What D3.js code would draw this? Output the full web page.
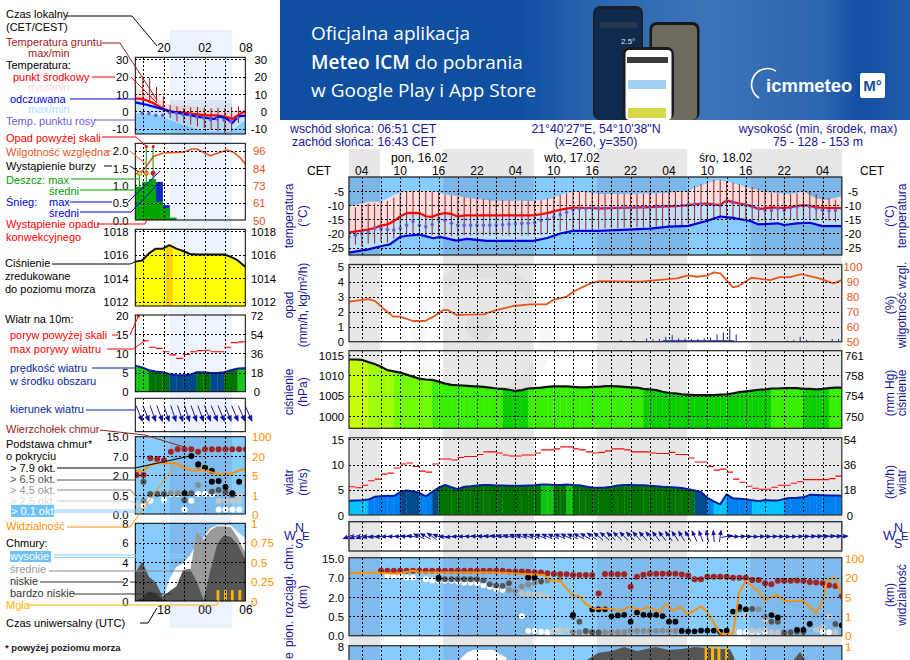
<!DOCTYPE html>
<html lang="pl"><head><meta charset="utf-8">
<script src="https://cdn.jsdelivr.net/npm/d3@7"></script>
<style>html,body{margin:0;padding:0;background:#fff;overflow:hidden}svg{display:block;font-family:"Liberation Sans",Arial,sans-serif}</style>
</head><body><svg id="c" width="910" height="660"></svg>
<script>
/* ---------- DATA : main meteogram, hour index 0 = Mon 02:00 CET ---------- */
const hourLabels=["04","10","16","22","04","10","16","22","04","10","16","22","04"];
const dayLabels=["pon, 16.02","wto, 17.02","śro, 18.02"];
const dayLabelHours=[11,35,59];
const nightStart=[0,14.72,38.72,62.72];
const nightEnd=[4.85,28.85,52.85,77];
const tempMaxH=[0,3,5,7,9,12.6,14.7,19,22.5,28.8,31.4,34,36,39,44.4,50,53,55.9,57.7,59.5,62.7,65.3,68.9,71,73,74.6,77];
const tempMaxV=[-10.5,-8.8,-8.8,-6.4,-4.9,-4.9,-6,-7.6,-8.4,-8.5,-7.8,-5.6,-5.2,-6,-6,-5.6,-4.9,-2.3,-1.1,-1.9,-4,-5.4,-6,-5.2,-7.6,-8.2,-6.8];
const tempMid=[-19.6,-19.3,-19,-18.6,-18.1,-17.2,-16.8,-15.6,-14,-12.8,-12.7,-12.8,-13.9,-14.1,-13.2,-12.8,-13.1,-14,-13.6,-13.6,-13.6,-13.6,-13.6,-13.6,-13.6,-13.6,-13.6,-13.6,-13.6,-13.5,-13.2,-12.8,-12.2,-11.6,-11.2,-10.9,-10.9,-11,-11,-11.1,-11.1,-11,-11,-10.9,-10.9,-10.8,-10.8,-10.7,-10.6,-10.4,-10.4,-10.3,-10.2,-10,-9.7,-9.5,-9.4,-9.8,-10,-8.3,-8.9,-9.4,-9.8,-10.4,-11.4,-11.1,-10.8,-10.9,-11,-10.7,-10.3,-10,-10.2,-10.8,-10.9,-11,-11,-11];
const feltH=[0,3,5,6.4,8,9,11,13.2,14.2,16.8,18.4,21.5,28.8,31,33,35,39,47,50,53,56,58,60,62.7,64,67,68,70,72,74,77];
const feltV=[-26.8,-25.6,-24.5,-23.8,-21.2,-20.8,-20.4,-21.7,-21.2,-22.5,-21.9,-22.6,-22.6,-21.6,-20,-19.1,-19.1,-18.3,-17.6,-17.3,-15.5,-14,-14.5,-15.6,-16.8,-16.4,-17,-16.4,-16.2,-17.4,-17.4];
const dewPoint=[-21.2,-20.6,-20,-19.4,-18.1,-18.3,-18.6,-18.8,-18.2,-17.1,-15.8,-17.1,-17.6,-16.8,-15,-15.3,-16.4,-17.1,-17.1,-17.1,-17.1,-17.1,-17.1,-17,-16.9,-16.7,-16.6,-16.5,-16.4,-16.2,-15.4,-14.9,-14.2,-13.4,-12.5,-11.6,-11.3,-11.2,-11,-11,-11.1,-11,-10.9,-10.9,-10.8,-10.7,-10.7,-10.6,-10.5,-10.4,-10.3,-10.2,-10,-9.8,-9.6,-9.5,-9.6,-9.9,-10.2,-8.8,-9.2,-9.6,-10,-10.6,-11.2,-12,-11.8,-11.2,-11.8,-11,-10.6,-10.3,-10.6,-11.2,-11.8,-12,-11.8,-11.2];
const groundMax=[null,-10.8,-9.9,-9.4,-9.4,-8.9,-8.5,-7.4,-6.2,-5.2,-4.8,-4.8,-5,-5.2,-5.5,-6.2,-6.5,-6.9,-7.2,-7.5,-7.6,-7.8,-8,-8.1,-8.2,-8.3,-8.4,-8.4,-8.4,-8.4,-8.2,-7.6,-7,-6.4,-5.8,-5.4,-5.2,-5.2,-5.4,-5.6,-6,-6,-6,-6,-6,-6,-6,-5.8,-5.8,-5.6,-5.4,-5.2,-5,-4.8,-3.2,-2.4,-1.5,-1,-1,-1.5,-2,-2.6,-3,-3.6,-4.2,-5,-5.6,-5.8,-6,-6,-5.8,-5.4,-5.2,-6,-7,-7.6,-8,null];
const groundMin=[null,-24,-24.5,-23.6,-23.6,-23,-23.2,-21.8,-21.4,-21,-21,-20.7,-20.6,-20.6,-20.7,-20.8,-21,-20.9,-20.7,-20.7,-20.7,-20.7,-20.7,-20.7,-20.7,-20.7,-20.7,-20.7,-20.7,-20.6,-20.4,-20,-19.6,-19.2,-18.9,-18.7,-18.6,-18.6,-18.6,-18.4,-18.2,-18,-18,-17.9,-17.9,-17.8,-17.8,-17.7,-17.6,-17.5,-17.4,-17.2,-17,-16.6,-16.2,-15.8,-15.2,-14.9,-14.7,-14.8,-15,-15.2,-15.4,-15.6,-15.8,-15.6,-15.4,-15.2,-15,-15,-15,-15,-15.2,-15.4,-15.4,-15.6,-15.8,null];
const humidityH=[0,3,4.1,5.4,6.9,8,10,11.9,13.2,14.7,15.5,16.8,18.4,21,23,25.7,28.3,30.9,31.9,34,35,37.7,39.2,45.5,51.2,53,54.3,55.9,57,58,59,60,60.8,62.9,65.8,67.3,68.9,70.7,73.6,75.7,77];
const humidityV=[76.7,78.4,77,72,66.7,66.7,63.8,63.8,66.7,71,71,67.8,68,68.2,71,73.8,74.9,74.9,77.8,80,83.3,88.9,90.4,90,92.2,94.2,93.3,94,96.2,95.6,91,86.2,87,92.7,91,93,93,95,92,88.9,91];
const precipSpikeH=[36,37,42.5,44.5,46.5,47.5,48.5,49.5,50.5,51.5,52.5,53.5,54.5,55.5,56.5,57.5,58.5,59.5,60.5,68.5,69.5,70.5,71.5,72.5,75.5,76.5];
const precipSpikeV=[.04,.05,.11,.11,.22,.16,.18,.33,.44,.22,.22,.18,.18,.22,.27,.49,.62,.89,.49,.09,.13,.33,.13,.07,.18,.18];
const precipBaseH=[35.6,40,46,52,56,60.2];
const precipBaseV=[.04,.05,.05,.09,.1,.1];
const pressure=[1013.9,1013.9,1013.8,1013.3,1012.8,1012.1,1011.3,1011,1010.7,1010.2,1009.7,1009.2,1009,1008.9,1008.5,1008,1007.7,1007.6,1007.5,1007.4,1007.3,1007.2,1007,1006.8,1006.7,1006.5,1006.2,1006.4,1006.8,1006.9,1007,1007.2,1007.3,1007.3,1007.3,1007.2,1007.1,1007.1,1007.2,1007.2,1007.4,1007.4,1007.3,1007.2,1007.1,1007,1006.7,1006.6,1006.4,1006,1005.7,1005.6,1005.4,1005.3,1005.2,1005.2,1005.2,1005.2,1005.3,1005.4,1005.6,1005.9,1006.1,1006.3,1006.5,1006.6,1006.8,1006.8,1006.9,1006.9,1006.9,1006.7,1006.7,1006.6,1006.7,1006.9,1007,1007];
const windMean=[2.8,2.85,2.9,3.05,3.6,3.7,3.8,3.75,4.55,4.85,4.7,4.4,3.7,4.6,5.4,5.95,5.5,5.1,5.6,5.7,5.85,5.95,5.95,5.85,5.85,5.8,5.8,5.8,5.85,5.9,6.05,6.05,5.95,5.95,6.05,5.95,5.9,5.65,5.45,5.4,5.45,5.6,5.85,5.95,5.95,5.9,5.9,5.8,5.7,5.6,5.55,5.45,5.35,5.1,4.85,4.55,3.4,2.7,2.1,4.1,3.3,3.2,3.1,2.9,2.75,2.95,2.85,2.85,3.2,3.35,3.4,3.5,4,3.95,3.9,3.85,3.85,3.8];
const windGust=[5.6,5.4,5.9,6.8,7.1,8.1,8.3,9.3,10.1,10.3,9.6,8.7,8.5,10.1,11.1,11.1,10.9,11.4,11.6,11.6,12,12.5,12.5,12.3,11.9,11.7,11.7,11.9,11.9,12.3,12.9,12.9,13.1,13.5,13.5,13.1,12.9,12.5,12.3,12.4,12.7,13.1,13.1,12.9,12.5,12.5,12.5,12.3,12.2,12.2,12.4,12,12,11.3,10.5,10.5,9.6,8.9,9.1,8.5,7.1,6.5,5.7,5.3,5.1,5.1,5.5,5.9,5.9,6.3,6.6,7,7,7,7,7.2,7.7];
const windHeading=[250,250,252,258,262,265,268,270,272,275,280,295,300,305,290,272,262,268,270,272,274,276,278,280,282,285,288,290,292,292,293,294,294,295,295,296,298,300,305,308,310,312,314,315,316,318,318,320,322,322,324,326,328,330,335,340,348,355,8,80,90,88,90,92,90,90,88,90,92,90,88,88,86,84,84,82,84,86];
const cloudTop=[null,null,null,null,null,9.8,9.8,9.8,9.8,9.8,9.8,9.8,9.8,9.8,9.8,9.8,9.8,9.8,9.8,9.8,9.8,9.8,9.8,9.8,9.8,9.5,9.5,9.5,9.4,9.2,9.1,8.8,8.5,8.5,8.4,8.1,8.1,8.1,8.1,3,8.5,8.5,8.4,8.4,4.7,7.4,8.2,8.6,8.6,8.6,8.6,8.6,8.3,7.9,6.6,6.6,7.4,7.4,7.4,7.4,7,7,7,6.4,6.4,5.6,5.3,6.2,6.2,6.2,6.3,6.2,5.9,5.8,5.6,5.1,4.9,2.3];
const baseWhite=[[6,8],[7,7.7],[8,7.7],[9,7.1],[10,7.1],[12,6.6],[13,6.3],[14,6.2],[15,6.2],[16,6.2],[17,6],[18,5.7],[19,5.7],[20,5.6],[21,5.1],[22,4.7],[23,4.1],[24,3.9],[27,.52],[28,.12],[29,.12],[30,.1],[31,.09],[32,.12],[33,.12],[61,.09],[62,.09],[63,.1],[64,.1],[65,.1],[74,.1],[75,.09]];
const baseLight=[[27,3],[28,2.9],[29,2.75],[30,2.6],[31,2],[32,.12],[33,.12],[34,.15],[60,.15],[62,.5],[63,.13],[64,.13],[65,.15],[65,.4],[66,.09],[67,.09],[68,.08],[73,.15],[74,.22],[75,.5],[76,.09]];
const baseGray=[[25,3.9],[26,3.6],[27,4.8],[28,5.3],[29,5.7],[30,6.2],[31,6.2],[33,7],[35,.09],[36,.09],[37,.1],[38,.09],[39,.08],[40,.09],[41,.09],[42,.09],[43,.09],[44,.12],[45,.12],[46,.12],[47,.12],[48,.12],[49,.13],[50,.12],[51,.12],[64,1.05],[65,.49]];
const baseDark=[[14,6.6],[15,6.6],[16,6.6],[17,6.6],[18,6.6],[19,6.6],[20,6.6],[21,6.3],[22,5.3],[23,5],[24,4.9],[25,5.6],[28,7],[29,7],[30,6],[35,.49],[36,.36],[37,.12],[38,.09],[39,.08],[61,1.05],[63,1.08],[66,.36],[67,.36],[68,.08],[69,.09],[70,.1],[71,.1],[76,.3]];
const baseBlack=[[14,7],[28,7.1],[29,7.1],[35,.62],[38,1.03],[39,1.05],[40,1.05],[41,.5],[42,.57],[43,.62],[44,.36],[45,.8],[46,.62],[47,.6],[48,.62],[49,.52],[50,.36],[51,.36],[52,.12],[53,.11],[54,.11],[55,.13],[56,.13],[57,.13],[58,.1],[59,.13],[60,.87],[61,1.25],[62,1.05],[66,.6],[67,.47],[70,.15],[71,.15],[72,.3],[77,.27]];
const visibilityH=[0,2.2,4.8,7.4,10,11.6,18.5,23.2,30.4,32,33,35,36,37,38.5,39.7,42.5,43.7,45.7,46.5,48.5,49.6,50.6,51.8,52.9,55,55.9,58,59,60,61,62,64,65,66.9,68,71,73,74,74.7,75.9,77];
const visibilityV=[38,40,40,36,48,42,41,41,31,17,17.5,6,6,3.5,2.5,2.7,2.2,3,2.3,3,2,3.6,2.2,3,1.4,3.1,2,.12,.07,.12,8.8,17.5,9.3,4.4,6.8,4.2,4.2,1.7,4.1,18,20,7.3,4].slice(0,42);
const cloudHighH=[0,16.9,17.3,18.4,19.4,22.5,24.6,25,77];
const cloudHighV=[0,0,6.6,7.3,7.6,7.6,6.8,0,0];
const cloudLowH=[0,36.5,37,39,41,43,45,47.9,50,52,54,56,58,59.5,60.2,60.6,69,69.5,70.5,71.2,71.7,77];
const cloudLowV=[0,0,6.5,7.3,7.5,7.9,7.5,7.9,7.6,7.7,7.9,7.8,7.7,7.7,6.8,0,0,6.6,7.4,6.6,0,0];
const fogH=[55.8,56.8,57.8,59];

/* ---------- DATA : left legend sample, hour index 0 = panel start ---------- */
const legendPinkH=[0,1.65,3.1,5.1,7.5,9.5,13.4,15.4,16.1];
const legendPinkV=[14,10.6,8.3,3.3,3.3,1.9,0,1,2.5];
const legendMidH=[0,1.2,2.6,4.1,5.1,6.5,8.5,10.4,11.9,13.4,14.2,15.1,16.1];
const legendMidV=[7.5,7,4.8,1.5,-.4,-.4,-1.5,-2.3,-2.3,-3.3,-4.4,-2,0];
const legendFeltH=[0,1.65,3.1,4.6,6.5,9.5,11.5,12.4,13.4,14.2,15.1,16.1];
const legendFeltV=[5.2,3.8,2.3,.6,-1,-3.3,-4.4,-2.9,-4.4,-6.7,-2.9,-2.5];
const legendFeltMinH=[0,3.1,7,10.4,13.9,16.1];
const legendFeltMinV=[-1,-1.9,-7.7,-11.5,-11.5,-4.8];
const legendDew=[null,-1,-1.3,-2.3,-2.3,-.6,-1,-1.9,-1.9,-3.3,-3.8,-4.8,-4.4,-5.2,-5.8,-3.8];
const legendGroundMax=[null,20.6,19.2,14,8.7,3.8,2.9,1.9,2.3,2.5,2.3,1.9,1.9,1.9,2.5,2.9];
const legendGroundMin=[null,3.8,4.8,4.8,0,-3.8,-5.8,-6.7,-7.7,-8.7,-9.6,-10.6,-11.5,-12.5,-11.5,-6.7];
const legendHumidityH=[0,1,1.65,2.65,4.1,7,8.3,9,11,13.4,14.4,15.4,16.1];
const legendHumidityV=[80,82,85.5,92,94.4,95,97.2,97.2,92.5,96.5,95,91,87];
const legendRain=[.96,1.1,1.18,.53,.34,.07];
const legendSnow=[0,0,0,1.1,.43,0];
const legendPressure=[1015.4,1015.5,1016.1,1016.5,1016.5,1016.8,1016.5,1016.3,1016.05,1016,1016,1016,1016,1016,1015.8,1015.5,1015,1015];
const legendWind=[6.8,6.3,5.6,5.3,5.1,4.6,4.3,4.3,4.4,5.1,5.1,4.9,4.9,5.1,5.6,6.05,6.1,6.1];
const legendGust=[null,13.3,11.6,11.3,10.4,9.6,8.7,9.7,10.4,10.7,10.8,10.4,10.4,11.6,12.8,13];
const legendHeading=[158,158,160,160,162,162,162,162,160,160,158,158,158,158,158,156,156];
const legendTop=[2,2,6.4,6.2,5.9,8.8,9.8,9.8,9.8,8.8,9.8,9.8,9.8,9.8,9.8,9.8,9.8];
const legendWhite=[[1,.23],[2,.35],[4,.38],[5,.58],[6,.57],[7,.12],[8,.35],[9,.58],[10,.57],[11,.58],[12,.12],[13,.12],[14,.12],[15,.12]];
const legendLight=[[0,.21],[5,.64],[9,1.25],[12,.35],[13,.35],[14,.35],[15,.5],[15,.35],[16,1.5]];
const legendGray=[[1,.35],[5,.64],[6,.64],[9,1.25],[9,4.3],[10,3.9],[11,1.5]];
const legendDark=[[1,1.5],[2,.57],[3,.57],[4,.57],[7,.36],[8,.64],[11,.75],[12,.87],[13,.7],[14,.5]];
const legendBlack=[[7,.64],[8,7],[9,4.8],[10,3.9],[11,3.1],[11,1.5],[12,1.55],[13,1.1],[14,.64],[15,1.5]];
const legendVisH=[0,1.2,2.1,3.3,6,7.2,8.7,10,12.2,14.1,15.4,16.1];
const legendVisV=[8.4,8.4,12.9,14.2,14.2,10.3,8.4,9,5.5,6.3,9,9.5];
const legendCloudHigh=[0,0,0,0,0,2.3,3.5,3.9,4.7,5.9,6.5,7.5,7.8,7.8,7.8,7.1,6.5,6.5];
const legendCloudMid=[0,0,0,0,0,0,0,1.8,2.9,7.1,6.3,7.3,7.7,7.7,7.6,6.5,5.1,5.1];
const legendCloudLow=[2.9,4.05,2.5,1.9,.45,1,1.5,3.2,3.3,2,.1,3.2,5.9,6.8,6.6,5.8,4.4,4.4];
const legendCloudVeryLow=[0,.3,1,.8,.1,0,0,0,0,0,0,0,0,0,0,0,0,0];
const legendFogH=[12.1,13.2,14.2,15.3];
const legendHourLabels=["20","02","08"];
const legendUtcLabels=["18","00","06"];

/* ---------- Colours ---------- */
const SKY="#86cdfe",SKYN="#7ebbec",PINK="#fcdfdf",PALE="#c2e5ff",NAVY="#17179a",RED="#ff0000",BLU="#0000e6",
BROWN="#a01c1c",ORN="#e8561a",VIS="#ff9000",FOG="#ffb400",DEW="#6e5ed6",LEVEL=["#ffffff","#c6c6c6","#8a8a8a","#555555","#000000"];

const svg=d3.select("#c");
const defs=svg.append("defs");
const x=d3.scaleLinear().domain([0,77]).range([349,841.8]);
const lx=d3.scaleLinear().domain([0,16.1]).range([135.3,245.3]);
const zip=(h,v)=>h.map((d,i)=>({h:d,v:v[i]}));
const idx=a=>a.map((v,i)=>({h:i,v})).filter(d=>d.v!=null);
const FS=11;
function txt(g,t,xx,yy,o={}){const e=g.append("text").attr("x",xx).attr("y",yy).attr("fill",o.c||"#000").attr("font-size",o.s||FS).attr("text-anchor",o.a||"start").text(t);if(o.w)e.attr("font-weight",o.w);if(o.f)e.attr("font-family",o.f);return e;}
function vtxt(g,t,xx,yy,o={}){return g.append("text").attr("transform",`translate(${xx},${yy}) rotate(-90)`).attr("fill",o.c||NAVY).attr("font-size",o.s||12).attr("text-anchor",o.a||"middle").text(t);}

/* ---------- banner ---------- */
const gr=defs.append("linearGradient").attr("id","bn");
[[0,"#0e4fa2"],[.38,"#0f4fa2"],[.5,"#2a66b0"],[.68,"#3c74b8"],[.86,"#2c66b0"],[.92,"#134fa2"],[1,"#1f5cab"]].forEach(s=>gr.append("stop").attr("offset",s[0]).attr("stop-color",s[1]));
const bn=svg.append("g");
bn.append("rect").attr("x",280).attr("y",0).attr("width",630).attr("height",120).attr("fill","url(#bn)");
txt(bn,"Oficjalna aplikacja",311,40,{c:"#fff",s:19,f:"Open Sans"});
const b2=txt(bn,"",311,68.5,{c:"#fff",s:19,f:"Open Sans"});
b2.append("tspan").attr("font-weight",600).text("Meteo ICM");b2.append("tspan").text(" do pobrania");
txt(bn,"w Google Play i App Store",311,97,{c:"#fff",s:19,f:"Open Sans"});
bn.append("rect").attr("x",593).attr("y",6).attr("width",50).attr("height",114).attr("rx",7).attr("fill","#1b1f26");
bn.append("rect").attr("x",595).attr("y",9).attr("width",46).attr("height",111).attr("rx",5).attr("fill","#0f2a4c");
bn.append("rect").attr("x",600).attr("y",22).attr("width",37).attr("height",6).attr("fill","#24384f");
txt(bn,"2.5°",621,44,{c:"#dfe9f3",s:8});
bn.append("rect").attr("x",649.5).attr("y",22).attr("width",50).attr("height",98).attr("rx",7).attr("fill","#17181a");
bn.append("rect").attr("x",652).attr("y",25).attr("width",45).attr("height",95).attr("rx",5).attr("fill","#6d6b5e");
bn.append("rect").attr("x",623).attr("y",47).attr("width",51).attr("height",73).attr("rx",7).attr("fill","#1a1a1a");
bn.append("rect").attr("x",625.5).attr("y",50).attr("width",46).attr("height",70).attr("rx",4).attr("fill","#fff");
bn.append("rect").attr("x",627).attr("y",57).attr("width",41).attr("height",6).attr("fill","#3a3a3a");
bn.append("rect").attr("x",628).attr("y",80).attr("width",38).attr("height",9).attr("fill","#9fd2f5");
bn.append("rect").attr("x",628).attr("y",108).attr("width",38).attr("height",10).attr("fill","#d6d84a");
bn.append("path").attr("d","M776 71 A 15 15 0 0 0 759 98").attr("fill","none").attr("stroke","#fff").attr("stroke-width",1.6);
txt(bn,"icmmeteo",766,92,{c:"#fff",s:18.5,w:"bold"});
bn.append("rect").attr("x",860).attr("y",73).attr("width",25).attr("height",25).attr("rx",2).attr("fill","#fff");
txt(bn,"M°",872.5,91,{c:"#0f4fa2",s:15,w:"bold",a:"middle"});

/* ---------- info header ---------- */
const hd=svg.append("g");
txt(hd,"wschód słońca: 06:51 CET",290,132.5,{c:NAVY,s:12.3});
txt(hd,"zachód słońca: 16:43 CET",292,146,{c:NAVY,s:12.3});
txt(hd,"21°40'27\"E, 54°10'38\"N",596,132.5,{c:NAVY,s:12.3,a:"middle"});
txt(hd,"(x=260,  y=350)",596,146,{c:NAVY,s:12.3,a:"middle"});
txt(hd,"wysokość (min, środek, max)",818,132.5,{c:NAVY,s:12.3,a:"middle"});
txt(hd,"75 - 128 - 153 m",818,146,{c:NAVY,s:12.3,a:"middle"});

/* ---------- background bands ---------- */
const bg=svg.append("g");
nightStart.forEach((s,i)=>bg.append("rect").attr("x",x(s)).attr("y",149).attr("width",x(nightEnd[i])-x(s)).attr("height",511).attr("fill","#e7e7e7"));
bg.append("circle").attr("cx",480).attr("cy",327).attr("r",14).attr("fill","#000").attr("opacity",.035);
bg.append("circle").attr("cx",482).attr("cy",335).attr("r",64).attr("fill","none").attr("stroke","#000").attr("stroke-width",14).attr("opacity",.028);
bg.append("rect").attr("x",170).attr("y",30).attr("width",62).attr("height",598).attr("fill","#edf3fd");

/* ---------- generic panel tools ---------- */
const main={t:[177,255],r:[264.5,341.7],p:[350.7,428.3],w:[437.7,515],d:[521.7,551],c:[557.7,635.7],k:[645.7,724]};
const left={t:[57.3,134],r:[143.3,220],p:[229.3,306],w:[315,391.7],d:[398.3,431.7],c:[436.7,514],k:[523.3,601]};
let clipN=0;
function panel(xs,box,bgFn){const g=svg.append("g");const id="cp"+(clipN++);
 defs.append("clipPath").attr("id",id).append("rect").attr("x",xs.range()[0]).attr("y",box[0]).attr("width",xs.range()[1]-xs.range()[0]).attr("height",box[1]-box[0]);
 const c=g.append("g").attr("clip-path",`url(#${id})`);if(bgFn)bgFn(c);return{g,c};}
function mainSky(c,box){c.append("rect").attr("x",x(0)).attr("y",box[0]).attr("width",x(77)-x(0)).attr("height",box[1]-box[0]).attr("fill",SKY);
 nightStart.forEach((s,i)=>c.append("rect").attr("x",x(s)).attr("y",box[0]).attr("width",x(nightEnd[i])-x(s)).attr("height",box[1]-box[0]).attr("fill",SKYN));}
function leftSky(c,box){c.append("rect").attr("x",135.3).attr("y",box[0]).attr("width",110).attr("height",box[1]-box[0]).attr("fill",SKY);
 c.append("rect").attr("x",170).attr("y",box[0]).attr("width",62).attr("height",box[1]-box[0]).attr("fill",SKYN);}
function grid(p,xs,box,xv,ys,yv){const g=p.g.append("g").attr("stroke","#000").attr("stroke-dasharray","2,2").attr("shape-rendering","crispEdges");
 xv.forEach(v=>g.append("line").attr("x1",Math.round(xs(v))+.5).attr("x2",Math.round(xs(v))+.5).attr("y1",box[0]).attr("y2",box[1]));
 if(ys)yv.forEach(v=>g.append("line").attr("x1",xs.range()[0]).attr("x2",xs.range()[1]).attr("y1",Math.round(ys(v))+.5).attr("y2",Math.round(ys(v))+.5));}
function frame(p,xs,box,col,w){p.g.append("rect").attr("x",xs.range()[0]).attr("y",box[0]).attr("width",xs.range()[1]-xs.range()[0]).attr("height",box[1]-box[0]).attr("fill","none").attr("stroke",col).attr("stroke-width",w);}
function axis(sc,vals,o){const a=d3.axisLeft(sc).tickValues(vals).tickSize(0).tickPadding(0).tickFormat(o.fmt||(d=>d));
 const g=svg.append("g").attr("transform",`translate(${o.x},0)`).call(a);g.select(".domain").remove();
 g.selectAll("text").attr("x",0).attr("dy",".36em").attr("text-anchor",o.a||"end").attr("fill",o.c||"#000").attr("font-size",o.s||11.3).attr("font-family",'"Liberation Sans",Arial,sans-serif');return g;}
const pts=(g,data,xf,yf,r,fill)=>g.selectAll(null).data(data).join("circle").attr("cx",xf).attr("cy",yf).attr("r",r).attr("fill",fill);
const lineOf=(xs,ys,k=d3.curveLinear)=>d3.line().x(d=>xs(d.h)).y(d=>ys(d.v)).curve(k);
const path=(g,d,col,w)=>g.append("path").attr("d",d).attr("fill","none").attr("stroke",col).attr("stroke-width",w).attr("stroke-linejoin","round");
function arrows(g,xs,heads,cy,len,off=0,hs=1){heads.forEach((h,i)=>{const a=h*Math.PI/180,sx=Math.sin(a),sy=-Math.cos(a),cx=xs(i+off);
 const hx=cx+sx*len/2,hy=cy+sy*len/2;g.append("line").attr("x1",cx-sx*len/2).attr("y1",cy-sy*len/2).attr("x2",hx).attr("y2",hy).attr("stroke","#1a1aa0").attr("stroke-width",1);
 g.append("path").attr("d",`M${hx+sx*1.5*hs},${hy+sy*1.5*hs} L${hx-sx*4*hs-sy*2.3*hs},${hy-sy*4*hs+sx*2.3*hs} L${hx-sx*4*hs+sy*2.3*hs},${hy-sy*4*hs-sx*2.3*hs}Z`).attr("fill","#1414a0");});}
function gustSegs(g,xs,ys,data,off=0){data.forEach((v,i)=>{if(v==null)return;g.append("line").attr("x1",xs(i+off)).attr("x2",xs(i+off+1)).attr("y1",ys(v)).attr("y2",ys(v)).attr("stroke",RED).attr("stroke-width",1.1);});}
function cols(g,xs,ys,data,color,base,off=0){data.forEach((v,i)=>{const n=data[i+1]??v;const a=d3.area().x(d=>xs(d.h)).y0(base).y1(d=>ys(d.v));
 g.append("path").attr("d",a([{h:i+off,v:off?(v+(data[i-1]??v))/2:v},{h:i+off+(off?.5:0),v},{h:i+off+1,v:off?(v+n)/2:n}])).attr("fill",color(v)).attr("stroke",color(v)).attr("stroke-width",.3);});}

/* ================= MAIN PANELS ================= */
const vHours=d3.range(2,77,3);
// temperature
const yT=d3.scaleLinear().domain([0,-27.5]).range([176.9,254.7]);
const pT=panel(x,main.t,c=>mainSky(c,main.t));
const band=(xs,ys,up,lo)=>{const hs=Array.from(new Set([...up.map(d=>d.h),...lo.map(d=>d.h)])).sort((a,b)=>a-b);const f=a=>h=>{const b=d3.bisector(d=>d.h).left(a,h);if(b<=0)return a[0].v;if(b>=a.length)return a[a.length-1].v;const p=a[b-1],q=a[b];return p.v+(q.v-p.v)*(h-p.h)/(q.h-p.h);};const U=f(up),L=f(lo);return d3.area().x(h=>xs(h)).y0(h=>ys(L(h))).y1(h=>ys(U(h)))(hs);};
const midS=idx(tempMid),maxS=zip(tempMaxH,tempMaxV),feltS=zip(feltH,feltV);
pT.c.append("path").attr("d",band(x,yT,midS,feltS.map(d=>({h:d.h,v:d.v-.1})))).attr("fill",PALE);
pT.c.append("path").attr("d",band(x,yT,maxS,midS)).attr("fill",PINK);
nightStart.forEach((s,i)=>pT.c.append("rect").attr("x",x(s)).attr("y",main.t[0]).attr("width",x(nightEnd[i])-x(s)).attr("height",78).attr("fill","#000").attr("opacity",.025));
pT.c.selectAll(null).data(idx(groundMax)).join("line").attr("x1",d=>x(d.h)).attr("x2",d=>x(d.h)).attr("y1",d=>yT(d.v)).attr("y2",d=>yT(groundMin[d.h])).attr("stroke",BROWN).attr("stroke-width",1);
path(pT.c,lineOf(x,yT)(midS),RED,2.2);
path(pT.c,lineOf(x,yT)(feltS),BLU,2.2);
pts(pT.c,idx(dewPoint),d=>x(d.h),d=>yT(d.v),1.8,DEW);
grid(pT,x,main.t,vHours,yT,[-5,-10,-15,-20,-25]);frame(pT,x,main.t,"#333",1.4);
axis(yT,[-5,-10,-15,-20,-25],{x:344});axis(yT,[-5,-10,-15,-20,-25],{x:853,a:"middle"});
// rain + humidity
const yR=d3.scaleLinear().domain([0,5]).range([341.7,266.7]);
const yH=d3.scaleLinear().domain([50,100]).range([341.7,266.7]);
const pR=panel(x,main.r);
pR.c.append("path").attr("d",d3.area().x(d=>x(d.h)).y0(yR(0)).y1(d=>yR(d.v)).curve(d3.curveStep)(zip(precipBaseH,precipBaseV))).attr("fill","#1428b4");
pR.c.selectAll(null).data(zip(precipSpikeH,precipSpikeV)).join("line").attr("x1",d=>x(d.h)).attr("x2",d=>x(d.h)).attr("y1",yR(0)).attr("y2",d=>yR(d.v)).attr("stroke","#1428b4").attr("stroke-width",1);
path(pR.c,lineOf(x,yH)(zip(humidityH,humidityV)),ORN,1.8);
grid(pR,x,main.r,vHours,yR,[1,2,3,4,5]);frame(pR,x,main.r,"#333",1.3);
axis(yR,[0,1,2,3,4,5],{x:344});axis(yH,[50,60,70,80,90,100],{x:853,a:"middle",c:ORN});
// pressure
const yP=d3.scaleLinear().domain([1000,1015]).range([416.3,355]);
const pP=panel(x,main.p);
const pCol=d3.scaleThreshold().domain([1006.75,1008.95,1011.1,1013.5]).range(["#0ad000","#38f000","#70ff00","#a0ff00","#c8ff00"]);
cols(pP.c,x,yP,pressure,pCol,main.p[1]);
path(pP.c,lineOf(x,yP)(idx(pressure)),"#111",2.2);
grid(pP,x,main.p,vHours,yP,[1000,1005,1010,1015]);frame(pP,x,main.p,"#222",1.2);
axis(yP,[1000,1005,1010,1015],{x:344});axis(yP,[1000,1005,1010,1015],{x:845,a:"start",fmt:d=>({1000:750,1005:754,1010:758,1015:761})[d]});
// wind
const yW=d3.scaleLinear().domain([0,15]).range([515,439.3]);
const pW=panel(x,main.w);
const wCol=d3.scaleThreshold().domain([3,4.5,5,6]).range(["#00c4ff","#0080f0","#004a8c","#007400","#12c412"]);
cols(pW.c,x,yW,windMean,wCol,main.w[1]);
gustSegs(pW.c,x,yW,windGust);
path(pW.c,lineOf(x,yW)(idx(windMean)),"#0a1ea0",2);
grid(pW,x,main.w,vHours,yW,[5,10,15]);frame(pW,x,main.w,"#333",1.2);
axis(yW,[0,5,10,15],{x:344});axis(yW,[0,5,10,15],{x:850,a:"middle",fmt:d=>d*3.6});
// direction
const pD=panel(x,main.d);grid(pD,x,main.d,vHours);frame(pD,x,main.d,"#333",1.4);
arrows(svg.append("g"),x,windHeading,536.5,11);
// cloud base
const ckm=d3.scaleLinear().domain([0,.5,2,7,15]).range([635.6,616.3,597.3,577.7,558]);
const cvis=d3.scaleLinear().domain([0,1,5,20,100]).range([635.6,616.3,597.3,577.7,558]);
const pC=panel(x,main.c,c=>mainSky(c,main.c));
[baseWhite,baseLight,baseGray,baseDark,baseBlack].forEach((a,i)=>pts(pC.c,a,d=>x(d[0]),d=>ckm(d[1]),2.9,LEVEL[i]));
pts(pC.c,idx(cloudTop),d=>x(d.h),d=>ckm(d.v),3,"#a32222");
path(pC.c,lineOf(x,cvis)(zip(visibilityH,visibilityV)),VIS,1.9);
grid(pC,x,main.c,vHours,ckm,[.5,2,7]);frame(pC,x,main.c,"#333",1.3);
axis(ckm,[0,.5,2,7,15],{x:344,fmt:d3.format(".1f")});axis(cvis,[0,1,5,20,100],{x:845,a:"start",c:VIS,s:11.8});
// clouds (only the top of this panel lies in the window)
const yK=d3.scaleLinear().domain([0,8]).range([724,646]);
const yF=d3.scaleLinear().domain([0,1]).range([724,646]);
const pK=panel(x,main.k,c=>mainSky(c,main.k));
const ar=(xs,ys)=>d3.area().x(d=>xs(d.h)).y0(ys(0)).y1(d=>ys(d.v));
pK.c.append("path").attr("d",ar(x,yK)(zip(cloudHighH,cloudHighV))).attr("fill","#fff");
pK.c.append("path").attr("d",ar(x,yK)(zip(cloudLowH,cloudLowV))).attr("fill","#555");
pK.c.selectAll(null).data(fogH).join("rect").attr("x",d=>x(d)-1.5).attr("width",3).attr("y",yF(1)).attr("height",yF(0)-yF(1)).attr("fill",FOG);
grid(pK,x,[646,724],vHours);frame(pK,x,main.k,"#333",1.3);
axis(yK,[8],{x:344});axis(yF,[1],{x:845,a:"start",c:VIS,s:11.8});

/* time header */
const th=svg.append("g");
txt(th,"CET",307,175,{s:12});txt(th,"CET",860,175,{s:12});
hourLabels.forEach((t,i)=>txt(th,t,x(2+6*i),175,{s:12,a:"middle"}));
dayLabels.forEach((t,i)=>txt(th,t,x(dayLabelHours[i])+(i==0?0:-1),161.5,{s:12,a:"middle"}));

/* side titles */
const st=svg.append("g");
[["temperatura","(°C)",216],["opad","(mm/h, kg/m²/h)",305],["ciśnienie","(hPa)",392],["wiatr","(m/s)",482]].forEach(r=>{vtxt(st,r[0],293,r[2]);vtxt(st,r[1],307,r[2]);});
vtxt(st,"pion. rozciągł. chm.",293,647,{a:"start"});
vtxt(st,"e",293,659,{a:"start"});
vtxt(st,"(km)",307,597);
[["(°C)","temperatura",216],["(%)","wilgotność wzgl.",305],["(mm Hg)","ciśnienie",393],["(km/h)","wiatr",482],["(km)","widzialność",595]].forEach(r=>{vtxt(st,r[0],894,r[2]);vtxt(st,r[1],906,r[2]);});
[["W",284,540,12.5],["N",295,532,12.5],["E",302,540,11.5],["S",295,548,12.5],["W",883,540,13.5],["N",894,532,12.5],["E",901,540,11.5],["S",894,548,12.5]].forEach(p=>txt(st,p[0],p[1],p[2],{c:NAVY,s:p[3]}));

/* ================= LEFT LEGEND PANELS ================= */
const lGrid=[1.2,4.2,7.2,10.2,13.2];
// temperature
const lyT=d3.scaleLinear().domain([-10,30]).range([128.7,59.3]);
const lT=panel(lx,left.t,c=>{c.append("rect").attr("x",135.3).attr("y",57).attr("width",110).attr("height",77).attr("fill","#fff");c.append("rect").attr("x",170).attr("y",57).attr("width",62).attr("height",77).attr("fill","#edf3fd");});
const lMid=zip(legendMidH,legendMidV),lPink=zip(legendPinkH,legendPinkV),lFelt=zip(legendFeltH,legendFeltV),lMin=zip(legendFeltMinH,legendFeltMinV);
lT.c.append("path").attr("d",d3.area().x(d=>lx(d.h)).y0(134).y1(d=>lyT(d.v))(lMin)).attr("fill",SKY);
lT.c.append("path").attr("d",band(lx,lyT,lMid,lMin)).attr("fill",PALE);
lT.c.append("path").attr("d",band(lx,lyT,lPink,lMid)).attr("fill",PINK);
lT.c.append("rect").attr("x",170).attr("y",100).attr("width",62).attr("height",34).attr("fill","#3060a0").attr("opacity",.1);
lT.c.selectAll(null).data(idx(legendGroundMax)).join("line").attr("x1",d=>lx(d.h+.1)).attr("x2",d=>lx(d.h+.1)).attr("y1",d=>lyT(d.v)).attr("y2",d=>lyT(legendGroundMin[d.h])).attr("stroke",BROWN).attr("stroke-width",1);
path(lT.c,lineOf(lx,lyT)(lMid),RED,2.2);
path(lT.c,lineOf(lx,lyT)(lFelt),BLU,2.2);
pts(lT.c,idx(legendDew),d=>lx(d.h),d=>lyT(d.v),1.8,DEW);
grid(lT,lx,left.t,lGrid,lyT,[-10,0,10,20,30]);frame(lT,lx,left.t,"#000",1);
axis(lyT,[-10,0,10,20,30],{x:128.5});axis(lyT,[-10,0,10,20,30],{x:267});
// rain
const lyR=d3.scaleLinear().domain([0,2]).range([220,150.7]);
const lyH=d3.scaleLinear().domain([50,61,73,84,96]).range([220,202.7,185,168.3,150.7]);
const lR=panel(lx,left.r);
lR.c.selectAll(null).data(legendSnow.map((v,i)=>({h:i,v}))).join("rect").attr("x",d=>lx(d.h)).attr("width",lx(1)-lx(0)+.3).attr("y",d=>lyR(d.v)).attr("height",d=>220-lyR(d.v)).attr("fill","#1428c8");
lR.c.selectAll(null).data(legendRain.map((v,i)=>({h:i,v}))).join("rect").attr("x",d=>lx(d.h)).attr("width",lx(1)-lx(0)+.3).attr("y",d=>lyR(d.v)).attr("height",d=>220-lyR(d.v)).attr("fill","#00a800");
const storms=[[.6,"#ffe000",1.35,.96],[1.6,"#ffa000",1.35,1.1],[2.6,"#ee1111",1.35,1.18]];
[[1.6,2.15,1.1],[2.6,2.15,1.18],[.6,1.35,.96]].forEach(s=>lR.g.append("line").attr("x1",lx(s[0])).attr("x2",lx(s[0])).attr("y1",lyR(s[1])).attr("y2",lyR(s[2])).attr("stroke","#00a000"));
storms.forEach(s=>lR.g.append("circle").attr("cx",lx(s[0])).attr("cy",lyR(s[2])).attr("r",2.2).attr("fill",s[1]).attr("stroke","#333").attr("stroke-width",.5));
[1.6,2.6].forEach(h=>lR.g.append("rect").attr("x",lx(h)-1.2).attr("y",lyR(2.12)-1.2).attr("width",2.6).attr("height",2.6).attr("fill",RED));
lR.g.append("line").attr("x1",lx(1.2)).attr("x2",lx(4.1)).attr("y1",219.5).attr("y2",219.5).attr("stroke",RED).attr("stroke-dasharray","3,3");
path(lR.c,lineOf(lx,lyH)(zip(legendHumidityH,legendHumidityV)),ORN,1.6);
grid(lR,lx,left.r,lGrid,lyR,[.5,1,1.5,2]);frame(lR,lx,left.r,"#000",1);
axis(lyR,[0,.5,1,1.5,2],{x:128.5,fmt:d3.format(".1f")});axis(lyH,[50,61,73,84,96],{x:253,a:"start",c:ORN});
// pressure
const lyP=d3.scaleLinear().domain([1012,1018]).range([301.7,231]);
const lP=panel(lx,left.p);
cols(lP.c,lx,lyP,legendPressure,d3.scaleThreshold().domain([1016.75]).range(["#ffff00","#ffd000"]),306,-.5);
path(lP.c,lineOf(lx,lyP)(idx(legendPressure)),"#111",2);
grid(lP,lx,left.p,lGrid,lyP,[1012,1014,1016,1018]);frame(lP,lx,left.p,"#000",1);
axis(lyP,[1012,1014,1016,1018],{x:128.5});axis(lyP,[1012,1014,1016,1018],{x:251,a:"start"});
// wind
const lyW=d3.scaleLinear().domain([0,20]).range([391.7,315]);
const lW=panel(lx,left.w);
cols(lW.c,lx,lyW,legendWind,d3.scaleThreshold().domain([5,6]).range(["#004a8c","#007400","#18c818"]),391.7);
gustSegs(lW.c,lx,lyW,legendGust);
path(lW.c,lineOf(lx,lyW)(idx(legendWind)),"#0a1ea0",2);
lW.g.append("circle").attr("cx",lx(.45)).attr("cy",lyW(19.7)).attr("r",1.4).attr("fill",RED);
grid(lW,lx,left.w,lGrid,lyW,[5,10,15]);frame(lW,lx,left.w,"#000",1);
axis(lyW,[0,5,10,15,20],{x:128.5});axis(lyW,[0,5,10,15,20],{x:257,a:"middle",fmt:d=>d*3.6});
// direction
const lD=panel(lx,left.d);grid(lD,lx,left.d,lGrid);frame(lD,lx,left.d,"#000",1);
arrows(svg.append("g"),lx,legendHeading,413,16,.55,1.2);
// cloud base
const lkm=d3.scaleLinear().domain([0,.5,2,7,15]).range([514,495,475,456,436.7]);
const lvis=d3.scaleLinear().domain([0,1,5,20,100]).range([514,495,475,456,436.7]);
const lC=panel(lx,left.c,c=>leftSky(c,left.c));
[legendWhite,legendLight,legendGray,legendDark,legendBlack].forEach((a,i)=>pts(lC.c,a,d=>lx(d[0]+.2),d=>lkm(d[1]),3,LEVEL[i]));
pts(lC.c,idx(legendTop),d=>lx(d.h+.2),d=>lkm(d.v),3,"#a32222");
path(lC.c,lineOf(lx,lvis)(zip(legendVisH,legendVisV)),VIS,2);
grid(lC,lx,left.c,lGrid,lkm,[.5,2,7]);frame(lC,lx,left.c,"#000",1);
axis(lkm,[0,.5,2,7,15],{x:128.5,fmt:d3.format(".1f")});axis(lvis,[0,1,5,20,100],{x:252,a:"start",c:VIS,s:11.8});
// clouds
const lyK=d3.scaleLinear().domain([0,8]).range([601,523.3]);
const lyF=d3.scaleLinear().domain([0,1]).range([601,523.3]);
const lK=panel(lx,left.k,c=>leftSky(c,left.k));
[[legendCloudHigh,"#fff"],[legendCloudMid,"#9a9a9a"],[legendCloudLow,"#565656"],[legendCloudVeryLow,"#333"]].forEach(s=>lK.c.append("path").attr("d",ar(lx,lyK)(idx(s[0]))).attr("fill",s[1]));
lK.c.selectAll(null).data(legendFogH).join("rect").attr("x",d=>lx(d)-1.4).attr("width",2.8).attr("y",lyF(.14)).attr("height",lyF(0)-lyF(.14)).attr("fill",FOG);
grid(lK,lx,left.k,lGrid,lyK,[2,4,6]);frame(lK,lx,left.k,"#000",1);
axis(lyK,[0,2,4,6,8],{x:128.5});axis(lyF,[0,.25,.5,.75,1],{x:251,a:"start",c:VIS,s:11.8});

/* legend time labels */
const lg=svg.append("g");
legendHourLabels.forEach((t,i)=>{txt(lg,t,lx(4.2+6*i),52,{s:12,a:"middle"});txt(lg,legendUtcLabels[i],lx(4.2+6*i),614,{s:12,a:"middle"});});

/* legend leaders */
const leaders=[
["#000",[[66,16],[132,16],[157,46]]],
[BROWN,[[102,43],[120,43],[157,100]]],
[RED,[[92,77],[115,77]]],[RED,[[131,77],[157,103]]],
[BLU,[[70,99],[136,99]]],
[DEW,[[94,120],[135,120]]],
[RED,[[102,137],[136,137],[146,146]]],
[ORN,[[106,151],[111,151]]],[ORN,[[130,151],[147,165]]],
["#000",[[104,166],[112,166]]],["#000",[[130,166],[139,172]]],
["#00a000",[[71,179],[139,179]]],["#00a000",[[80,190],[145,190]]],
[BLU,[[70,202],[112,202]]],[BLU,[[128,202],[160,171]]],
[BLU,[[80,212],[131,212],[160,182]]],
[RED,[[97,224],[145,224],[147,220]]],
["#000",[[52,264],[130,264],[135,262]]],
[RED,[[112,335],[118,335]]],[RED,[[130,335],[138,317]]],
[RED,[[107,349],[133,349],[146,340]]],
["#0a1ea0",[[92,368],[136,368]]],
["#0a1ea0",[[86,410],[136,410]]],
[BROWN,[[100,430],[145,435],[184,447]]],
["#000",[[57,468],[135,468],[190,456]]],
["#555",[[57,480],[135,480]]],
["#888",[[57,490],[131,490],[138,500]]],
["#ccc",[[57,501],[131,501],[137,505]]],
["#8ad0ff",[[54,510],[136,510]]],["#8ad0ff",[[54,512],[136,512]]],
[VIS,[[67,527],[130,527],[175,465]]],
["#8ad0ff",[[54,555],[186,555]]],["#8ad0ff",[[54,557.5],[186,557.5]]],
["#888",[[49,571],[193,571]]],
["#333",[[40,582],[124,582]]],["#333",[[130,582],[135,582]]],
["#333",[[74,594],[172,594]]],
[FOG,[[27,605],[217,605],[219,600]]],
["#000",[[140,623],[148,623],[157,608]]]];
const lin=d3.line();
leaders.forEach(l=>lg.append("path").attr("d",lin(l[1])).attr("fill","none").attr("stroke",l[0]).attr("stroke-width",1));

/* legend text */
lg.append("rect").attr("x",11).attr("y",505).attr("width",43).attr("height",12).attr("fill","#6cc2ff");
lg.append("rect").attr("x",10).attr("y",551).attr("width",41).attr("height",11).attr("fill","#6cc2ff");
const labels=[
["Czas lokalny",6,18,"#000"],["(CET/CEST)",6,31,"#000"],
["Temperatura gruntu",6,46,BROWN],["max/min",28,57,BROWN],
["Temperatura:",6,69,"#000"],["punkt środkowy",13,81,RED],["max/min",28,91,"#fbdcdc"],
["odczuwana",10,103,BLU],["max/min",28,113,"#a8dcff"],["Temp. punktu rosy",6,125,DEW],
["Opad powyżej skali",6,142,RED],["Wilgotność względna",6,156,ORN],["Wystąpienie burzy",6,170,"#000"],
["Deszcz: max",6,184,"#00a000"],["średni",49,195,"#00a000"],["Śnieg:",6,206,BLU],["max",49,206,BLU],["średni",49,217,BLU],
["Wystąpienie opadu",6,228,RED],["konwekcyjnego",6,241,RED],
["Ciśnienie",5,267,"#000"],["zredukowane",5,280,"#000"],["do poziomu morza",5,293,"#000"],
["Wiatr na 10m:",5,323,"#000"],["poryw powyżej skali",10,339,RED],["max porywy wiatru",10,353,RED],
["prędkość wiatru",10,372,"#0a1ea0"],["w środku obszaru",10,385,"#0a1ea0"],["kierunek wiatru",10,413,"#0a1ea0"],
["Wierzchołek chmur",6,433,BROWN],["Podstawa chmur*",6,448,"#000"],["o pokryciu",6,460,"#000"],
["> 7.9 okt.",10,472,"#000"],["> 6.5 okt.",10,483,"#555"],["> 4.5 okt.",10,494,"#999"],["> 2.5 okt.",10,505,"#ddd"],["> 0.1 okt.",11,515,"#fff"],
["Widzialność",6,530,VIS],["Chmury:",6,547,"#000"],["wysokie",10,560,"#fff"],["średnie",10,573,"#999"],["niskie",10,585,"#333"],["bardzo niskie",10,597,"#333"],["Mgła",6,609,FOG],
["Czas uniwersalny (UTC)",6,627,"#000"]];
labels.forEach(l=>txt(lg,l[0],l[1],l[2],{c:l[3]}));
txt(lg,"* powyżej poziomu morza",5,651,{s:9.5,w:"bold",c:"#222"});
</script></body></html>
